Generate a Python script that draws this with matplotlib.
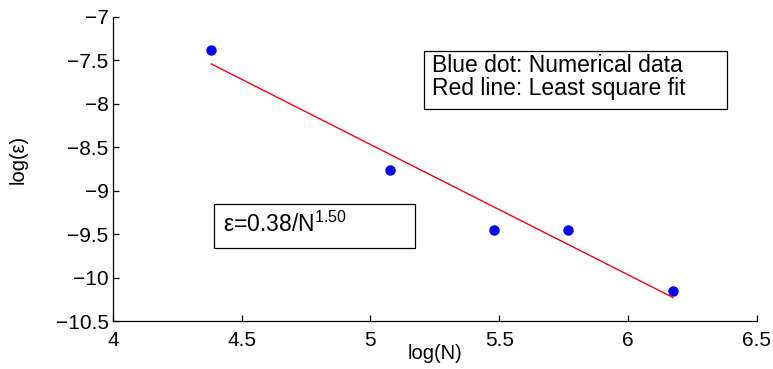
import numpy as np
import matplotlib.pyplot as plt
from matplotlib.patches import Rectangle

plt.rcParams['font.family'] = ['Liberation Sans', 'DejaVu Sans']

# data: log(N) vs log(error)
log_n = [4.382, 5.075, 5.481, 5.768, 6.174]
log_err = [-7.38, -8.76, -9.45, -9.45, -10.15]

# least square fit: eps = c / N^p
fit_c = 0.38
fit_p = 1.50

x_fit = np.array([log_n[0], log_n[-1]])
y_fit = np.log(fit_c) - fit_p * x_fit

fig = plt.figure(figsize=(7.73, 3.69), dpi=100)
ax = fig.add_axes([0.146, 0.130, 0.833, 0.824])

ax.plot(log_n, log_err, 'o', color='blue', markersize=7.5, markeredgewidth=0)
ax.plot(x_fit, y_fit, '-', color='red', linewidth=1)

ax.set_xlim(4, 6.5)
ax.set_ylim(-10.5, -7)
ax.set_xticks([4, 4.5, 5, 5.5, 6, 6.5])
ax.set_xticklabels(['4', '4.5', '5', '5.5', '6', '6.5'])
ax.set_yticks([-10.5, -10, -9.5, -9, -8.5, -8, -7.5, -7])
ax.set_yticklabels(['\u221210.5', '\u221210', '\u22129.5', '\u22129',
                    '\u22128.5', '\u22128', '\u22127.5', '\u22127'])

ax.spines['top'].set_visible(False)
ax.spines['right'].set_visible(False)
for s in ['left', 'bottom']:
    ax.spines[s].set_linewidth(0.9)
ax.tick_params(direction='in', length=4.5, width=0.9, labelsize=15)
ax.tick_params(axis='x', pad=7)
ax.tick_params(axis='y', pad=3)

ax.set_xlabel('log(N)', fontsize=14.5)
ax.xaxis.set_label_coords(0.5, -0.075)
ax.set_ylabel('log(\u03b5)', fontsize=14.5)
ax.yaxis.set_label_coords(-0.132, 0.53)

# legend-like text box
ax.add_patch(Rectangle((5.207, -8.059), 6.3835 - 5.207, 8.059 - 7.391,
                       facecolor='white', edgecolor='black', linewidth=0.9,
                       clip_on=False, zorder=3))
ax.text(5.238, -7.637, 'Blue dot: Numerical data', fontsize=16.5,
        va='baseline', ha='left', zorder=4)
ax.text(5.238, -7.898, 'Red line: Least square fit', fontsize=16.5,
        va='baseline', ha='left', zorder=4)

# fit formula box
ax.add_patch(Rectangle((4.392, -9.659), 5.172 - 4.392, 9.659 - 9.153,
                       facecolor='white', edgecolor='black', linewidth=0.9,
                       clip_on=False, zorder=3))
ax.text(4.427, -9.472, '\u03b5=0.38/N$^{\\mathregular{1.50}}$', fontsize=16.5,
        va='baseline', ha='left', zorder=4)

fig.savefig('out.png', dpi=100)
